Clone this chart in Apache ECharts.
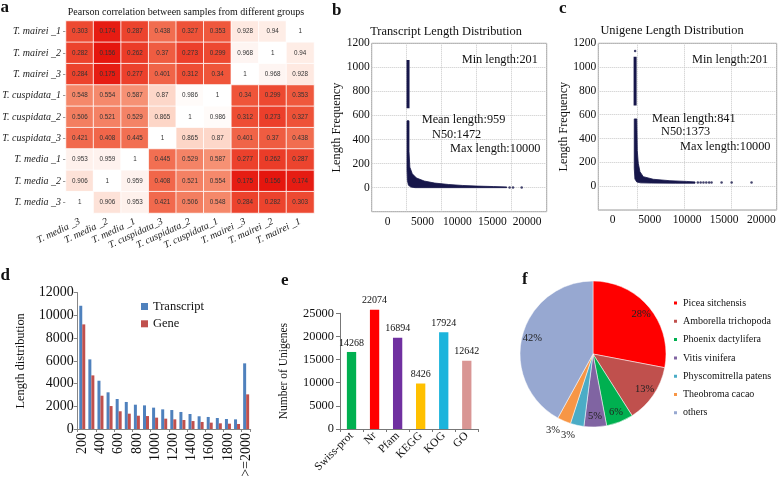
<!DOCTYPE html>
<html><head><meta charset="utf-8">
<script src="https://cdn.jsdelivr.net/npm/echarts@6/dist/echarts.min.js"></script>
<style>html,body{margin:0;padding:0;background:#fff}#c{width:778px;height:482px}</style>
</head><body><div id="c"></div>
<script>
// ---------- Panel a: Pearson correlation heatmap ----------
const hmRows = ['T. mairei _1','T. mairei _2','T. mairei _3','T. cuspidata_1','T. cuspidata_2','T. cuspidata_3','T. media _1','T. media _2','T. media _3'];
const hmCols = ['T. media _3','T. media _2','T. media _1','T. cuspidata_3','T. cuspidata_2','T. cuspidata_1','T. mairei _3','T. mairei _2','T. mairei _1'];
const hmValues = [
  [0.303,0.174,0.287,0.438,0.327,0.353,0.928,0.94,1],
  [0.282,0.156,0.262,0.37,0.273,0.299,0.968,1,0.94],
  [0.284,0.175,0.277,0.401,0.312,0.34,1,0.968,0.928],
  [0.548,0.554,0.587,0.87,0.986,1,0.34,0.299,0.353],
  [0.506,0.521,0.529,0.865,1,0.986,0.312,0.273,0.327],
  [0.421,0.408,0.445,1,0.865,0.87,0.401,0.37,0.438],
  [0.953,0.959,1,0.445,0.529,0.587,0.277,0.262,0.287],
  [0.906,1,0.959,0.408,0.521,0.554,0.175,0.156,0.174],
  [1,0.906,0.953,0.421,0.506,0.548,0.284,0.282,0.303]
];

// ---------- Panel b: Transcript length distribution ----------
const bColumn = [[5190,1061],[5190,659]];
const bBandUpper = [[5330,556],[5330,300],[5450,170],[5800,115],[6400,80],[7500,55],[9000,38],[11000,26],[13000,18],[15000,13],[17380,9],[19290,6]];
const bBandLower = [[5043,556],[5043,150],[5100,60],[5250,20],[5600,5],[6200,0],[19290,0]];
const bDots = [[19700,2],[20190,1],[21430,1]];
const bStats = ['Min length:201','Mean length:959','N50:1472','Max length:10000'];

// ---------- Panel c: Unigene length distribution ----------
const cColumn = [[4720,1088],[4720,677]];
const cBandUpper = [[4900,565],[4950,300],[5056,193],[5237,122],[5592,80],[6656,58],[8430,46],[10205,40],[11100,36]];
const cBandLower = [[4630,565],[4630,150],[4700,60],[4900,35],[5300,28],[6500,26],[9000,25],[11100,25]];
const cDots = [[4720,1136],[11400,30],[11700,30],[12000,30],[12300,30],[12600,30],[12860,30],[13930,30],[15000,30],[17120,30]];
const cStats = ['Min length:201','Mean length:841','N50:1373','Max length:10000'];
const lenTickLabels = [0,5000,10000,15000,20000];

// ---------- Panel d: length distribution bars ----------
const dCategories = ['200','300','400','500','600','700','800','900','1000','1100','1200','1300','1400','1500','1600','1700','1800','1900','>=2000'];
const dTranscript = [10850,6130,4250,3230,2640,2380,2140,2080,1880,1730,1670,1500,1320,1120,1060,970,880,850,5780];
const dGene = [9210,4720,2930,2020,1560,1350,1170,1140,1000,910,850,790,700,620,560,500,470,440,3050];

// ---------- Panel e: annotation database counts ----------
const eCategories = ['Swiss-prot','Nr','Pfam','KEGG','KOG','GO'];
const eValues = [14268,22074,16894,8426,17924,12642];
const eColors = ['#00b050','#ff0000','#7030a0','#ffc000','#1cb4dc','#d99694'];

// ---------- Panel f: species distribution ----------
const fNames = ['Picea sitchensis','Amborella trichopoda','Phoenix dactylifera','Vitis vinifera','Physcomitrella patens','Theobroma cacao','others'];
const fValues = [28,13,6,5,3,3,42];
const fColors = ['#ff0000','#c0504d','#00b050','#8064a2','#4bacc6','#f79646','#97a8d1'];

// ---------- build ----------
const serif = "'Liberation Serif','Times New Roman',serif";
const sans = "'Liberation Sans',Arial,sans-serif";
const navy = '#16164a';
const ink = '#111';

const hmData = [];
hmValues.forEach((row, r) => row.forEach((v, c) => hmData.push([c, r, v])));

function band(upper, lower) {
  return function (params, api) {
    const pts = upper.concat(lower.slice().reverse()).map(p => api.coord(p));
    return {type: 'polygon', shape: {points: pts}, style: {fill: navy, stroke: navy, lineWidth: 0.8}};
  };
}
function T(text, x, y, size, opts) {
  opts = opts || {};
  return {type: 'text', x: x, y: y, silent: true, z: 100,
    style: {text: text, font: (opts.bold ? 'bold ' : '') + size + 'px ' + serif, fill: ink,
      align: opts.align || 'left', textAlign: opts.align || 'left',
      verticalAlign: 'middle', textVerticalAlign: 'middle'}};
}
const plain = v => String(v);
const dotted = {lineStyle: {color: '#c8c8c8', type: 'dotted', width: 1}};

const pieData = fNames.map((n, i) => ({name: n, value: fValues[i], itemStyle: {color: fColors[i]}}));
const pieLabelData = fNames.map((n, i) => {
  const item = {name: n, value: fValues[i]};
  if (fValues[i] <= 3) item.label = {position: 'outside'};
  return item;
});

const lenYAxis = (gi, gap) => ({gridIndex: gi, type: 'value', min: -200, max: 1200, interval: 200,
  axisLine: {show: false}, axisTick: {show: false}, splitLine: Object.assign({show: true}, dotted),
  axisLabel: {formatter: v => v < 0 ? '' : String(v), fontSize: 11.5, fontFamily: serif, color: ink, margin: 2},
  name: 'Length Frequency', nameLocation: 'middle', nameGap: gap,
  nameTextStyle: {fontSize: 12.3, fontFamily: serif, color: ink}});
const lenLabelAxis = (gi, mn, mx) => ({gridIndex: gi, type: 'value', min: mn, max: mx, position: 'bottom',
  axisLine: {show: false}, axisTick: {show: false}, splitLine: {show: false},
  axisLabel: {customValues: lenTickLabels, formatter: plain, fontSize: 11.5, fontFamily: serif, color: ink, margin: 4}});

const option = {
  animation: false,
  backgroundColor: '#fff',
  grid: [
    {left: 66, top: 21, width: 248, height: 192},
    {left: 371.7, top: 43.3, width: 175, height: 168.4, show: true, borderColor: '#9a9a9a', borderWidth: 1},
    {left: 598.3, top: 43.3, width: 178.4, height: 166.7, show: true, borderColor: '#9a9a9a', borderWidth: 1},
    {left: 77.7, top: 292.7, width: 173, height: 136.3},
    {left: 340, top: 313.3, width: 138.3, height: 115.7}
  ].map(g => Object.assign({outerBoundsMode: 'none', containLabel: false}, g)),
  visualMap: {type: 'continuous', seriesIndex: 0, min: 0.15, max: 1, show: false,
    inRange: {color: ['#e5140d', '#ee5036', '#f37a5c', '#f8a386', '#fccbb9', '#ffffff']}},
  legend: [
    {data: ['Transcript', 'Gene'], left: 136, top: 295, orient: 'vertical', icon: 'rect',
      itemWidth: 7, itemHeight: 7, itemGap: 4.3, selectedMode: false,
      textStyle: {fontSize: 12.5, lineHeight: 13, fontFamily: serif, color: ink}},
    {data: fNames, left: 667, top: 292, orient: 'vertical', icon: 'rect',
      itemWidth: 5, itemHeight: 5, itemGap: 6.3, selectedMode: false,
      textStyle: {fontSize: 10, lineHeight: 12, fontFamily: serif, color: ink}}
  ],
  xAxis: [
    {gridIndex: 0, type: 'category', data: hmCols, axisLine: {show: false}, axisTick: {show: false},
      splitLine: {show: false},
      axisLabel: {rotate: 25, margin: 8, interval: 0, fontSize: 10, fontStyle: 'italic', fontFamily: serif, color: '#222'}},
    {gridIndex: 1, type: 'value', min: 0, max: 25000, interval: 5000, position: 'bottom',
      axisLine: {show: false}, axisTick: {show: false}, axisLabel: {show: false},
      splitLine: Object.assign({show: true}, dotted)},
    lenLabelAxis(1, -2278, 22794),
    {gridIndex: 2, type: 'value', min: 800, max: 19800, splitNumber: 4, position: 'bottom',
      axisLine: {show: false}, axisTick: {show: false}, axisLabel: {show: false},
      splitLine: Object.assign({show: true}, dotted)},
    lenLabelAxis(2, -1922, 22056),
    {gridIndex: 3, type: 'category', data: dCategories,
      axisLine: {lineStyle: {color: '#868686'}}, axisTick: {show: true, length: 3, lineStyle: {color: '#868686'}},
      axisLabel: {rotate: 90, interval: 1, fontSize: 14, fontFamily: serif, color: ink, margin: 4}},
    {gridIndex: 4, type: 'category', data: eCategories,
      axisLine: {lineStyle: {color: '#777'}}, axisTick: {show: true, length: 3, lineStyle: {color: '#777'}},
      axisLabel: {rotate: 45, interval: 0, fontSize: 11.5, fontFamily: serif, color: ink, margin: 5}}
  ],
  yAxis: [
    {gridIndex: 0, type: 'category', data: hmRows, inverse: true, axisLine: {show: false},
      axisTick: {show: true, length: 3, alignWithLabel: true, lineStyle: {color: '#999'}},
      axisLabel: {fontSize: 10, fontStyle: 'italic', fontFamily: serif, color: '#222', margin: 5}},
    lenYAxis(1, 26),
    lenYAxis(2, 28),
    {gridIndex: 3, type: 'value', min: 0, max: 12000, interval: 2000,
      axisLine: {show: true, lineStyle: {color: '#868686'}}, axisTick: {show: true, length: 4, lineStyle: {color: '#868686'}},
      splitLine: {show: false},
      axisLabel: {formatter: plain, fontSize: 14, fontFamily: serif, color: ink, margin: 4},
      name: 'Length distribution', nameLocation: 'middle', nameGap: 51,
      nameTextStyle: {fontSize: 12.4, fontFamily: serif, color: ink}},
    {gridIndex: 4, type: 'value', min: 0, max: 25000, interval: 5000,
      axisLine: {show: true, lineStyle: {color: '#777'}}, axisTick: {show: true, length: 4, lineStyle: {color: '#777'}},
      splitLine: {show: false},
      axisLabel: {formatter: plain, fontSize: 12.4, fontFamily: serif, color: ink, margin: 6},
      name: 'Number of Unigenes', nameLocation: 'middle', nameGap: 50.5,
      nameTextStyle: {fontSize: 11.5, fontFamily: serif, color: ink}},
    // bar scale of panel e as drawn in the picture (bars taller than the tick labels imply)
    {gridIndex: 4, type: 'value', min: 0, max: 21430, show: false, splitLine: {show: false}}
  ],
  series: [
    {type: 'heatmap', xAxisIndex: 0, yAxisIndex: 0, data: hmData,
      itemStyle: {borderColor: '#fff', borderWidth: 0.8}, emphasis: {disabled: true},
      label: {show: true, fontSize: 6.3, fontFamily: sans, color: '#333', formatter: p => String(p.value[2])}},
    {type: 'custom', xAxisIndex: 1, yAxisIndex: 1, data: [[0, 0]], renderItem: band(bBandUpper, bBandLower), silent: true},
    {type: 'line', xAxisIndex: 1, yAxisIndex: 1, data: bColumn, symbol: 'none', lineStyle: {color: navy, width: 3}, silent: true},
    {type: 'scatter', xAxisIndex: 1, yAxisIndex: 1, data: bDots, symbolSize: 2.5, itemStyle: {color: navy}, silent: true},
    {type: 'custom', xAxisIndex: 3, yAxisIndex: 2, data: [[0, 0]], renderItem: band(cBandUpper, cBandLower), silent: true},
    {type: 'line', xAxisIndex: 3, yAxisIndex: 2, data: cColumn, symbol: 'none', lineStyle: {color: navy, width: 3}, silent: true},
    {type: 'scatter', xAxisIndex: 3, yAxisIndex: 2, data: cDots, symbolSize: 2.5, itemStyle: {color: navy}, silent: true},
    {type: 'bar', name: 'Transcript', xAxisIndex: 5, yAxisIndex: 3, data: dTranscript, barWidth: 3, barGap: '0%',
      itemStyle: {color: '#4f81bd'}},
    {type: 'bar', name: 'Gene', xAxisIndex: 5, yAxisIndex: 3, data: dGene, barWidth: 3, barGap: '0%',
      itemStyle: {color: '#c0504d'}},
    {type: 'bar', xAxisIndex: 6, yAxisIndex: 5, barWidth: 9.3, clip: false,
      data: eValues.map((v, i) => ({value: v, itemStyle: {color: eColors[i]}})),
      label: {show: true, position: 'top', distance: 4, fontSize: 10, fontFamily: serif, color: ink}},
    {type: 'pie', center: [593, 354], radius: [0, 73], startAngle: 90, clockwise: true, data: pieData,
      label: {show: false}, labelLine: {show: false}, itemStyle: {borderColor: '#fff', borderWidth: 0.5}, silent: true},
    {type: 'pie', center: [593, 354], radius: [46, 73], startAngle: 90, clockwise: true, data: pieLabelData,
      silent: true, avoidLabelOverlap: false, itemStyle: {color: 'rgba(0,0,0,0)'},
      label: {show: true, position: 'inside', formatter: '{c}%', fontSize: 10.5, fontFamily: serif, color: '#222', distanceToLabelLine: 0},
      labelLine: {show: false, length: 10, length2: 0}}
  ],
  graphic: [
    T('a', 0.5, 7.2, 17, {bold: true}),
    T('b', 332, 10.2, 17, {bold: true}),
    T('c', 559, 8.5, 17, {bold: true}),
    T('d', 0.5, 275.2, 17, {bold: true}),
    T('e', 281, 281, 17, {bold: true}),
    T('f', 522, 280, 17, {bold: true}),
    T('Pearson correlation between samples from different groups', 186, 12.3, 10, {align: 'center'}),
    T('Transcript Length Distribution', 446, 32, 12.4, {align: 'center'}),
    T('Unigene Length Distribution', 672, 31, 12.4, {align: 'center'}),
    T(bStats[0], 461.7, 60, 12.3), T(bStats[1], 421.7, 120, 12.3),
    T(bStats[2], 432, 134.3, 12.3), T(bStats[3], 450, 148.3, 12.3),
    T(cStats[0], 692, 59.3, 12.3), T(cStats[1], 652, 118.3, 12.3),
    T(cStats[2], 661, 132, 12.3), T(cStats[3], 680, 147, 12.3)
  ]
};

const chart = echarts.init(document.getElementById('c'), null, {renderer: 'canvas'});
chart.setOption(option);
</script></body></html>
